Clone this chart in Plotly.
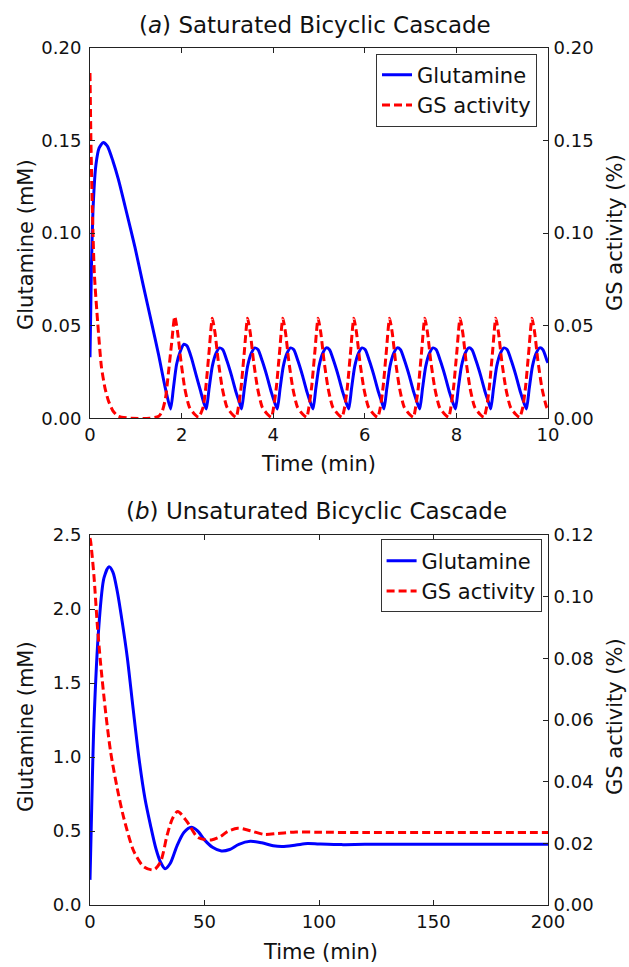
import plotly.graph_objects as go

# ---------------- Panel (a): Saturated bicyclic cascade ----------------
t_a_glu = [0, 0.03, 0.07, 0.13, 0.20, 0.29, 0.38, 0.50, 0.62, 0.80, 0.98, 1.16, 1.35, 1.50, 1.64,
           1.76, 1.82, 1.89, 1.97, 2.05, 2.12, 2.21, 2.31, 2.41, 2.49,
           2.54, 2.60, 2.67, 2.75, 2.83, 2.90, 2.99, 3.09, 3.19, 3.27,
           3.31, 3.37, 3.44, 3.52, 3.60, 3.67, 3.76, 3.86, 3.96, 4.04,
           4.09, 4.15, 4.22, 4.30, 4.38, 4.45, 4.54, 4.64, 4.74, 4.82,
           4.87, 4.93, 5.00, 5.08, 5.16, 5.23, 5.32, 5.42, 5.52, 5.60,
           5.65, 5.71, 5.78, 5.86, 5.94, 6.01, 6.10, 6.20, 6.30, 6.38,
           6.42, 6.48, 6.55, 6.63, 6.71, 6.78, 6.87, 6.97, 7.07, 7.15,
           7.20, 7.26, 7.33, 7.41, 7.49, 7.56, 7.65, 7.75, 7.85, 7.93,
           7.98, 8.04, 8.11, 8.19, 8.27, 8.34, 8.43, 8.53, 8.63, 8.71,
           8.75, 8.81, 8.88, 8.96, 9.04, 9.11, 9.20, 9.30, 9.40, 9.48,
           9.53, 9.59, 9.66, 9.74, 9.82, 9.89, 9.98, 10.0]
glu_a = [0.033, 0.080, 0.115, 0.137, 0.146, 0.149, 0.147, 0.139, 0.129, 0.111, 0.0926, 0.072, 0.051, 0.034, 0.0168,
         0.005, 0.016, 0.029, 0.036, 0.040, 0.039, 0.033, 0.024, 0.015, 0.008,
         0.005, 0.016, 0.028, 0.035, 0.038, 0.037, 0.031, 0.023, 0.014, 0.008,
         0.005, 0.016, 0.028, 0.035, 0.038, 0.037, 0.031, 0.023, 0.014, 0.008,
         0.005, 0.016, 0.028, 0.035, 0.038, 0.037, 0.031, 0.023, 0.014, 0.008,
         0.005, 0.016, 0.028, 0.035, 0.038, 0.037, 0.031, 0.023, 0.014, 0.008,
         0.005, 0.016, 0.028, 0.035, 0.038, 0.037, 0.031, 0.023, 0.014, 0.008,
         0.005, 0.016, 0.028, 0.035, 0.038, 0.037, 0.031, 0.023, 0.014, 0.008,
         0.005, 0.016, 0.028, 0.035, 0.038, 0.037, 0.031, 0.023, 0.014, 0.008,
         0.005, 0.016, 0.028, 0.035, 0.038, 0.037, 0.031, 0.023, 0.014, 0.008,
         0.005, 0.016, 0.028, 0.035, 0.038, 0.037, 0.031, 0.023, 0.014, 0.008,
         0.005, 0.016, 0.028, 0.035, 0.038, 0.037, 0.031, 0.030]

t_a_gs = [0, 0.02, 0.05, 0.095, 0.17, 0.25, 0.33, 0.40, 0.50, 0.62, 0.90, 1.30, 1.50, 1.58, 1.65, 1.71, 1.78,
          1.85, 1.91, 1.98, 2.07, 2.17, 2.29, 2.37,
          2.47, 2.53, 2.60, 2.67, 2.73, 2.80, 2.89, 2.99, 3.11, 3.19,
          3.24, 3.30, 3.37, 3.44, 3.50, 3.57, 3.66, 3.76, 3.88, 3.96,
          4.01, 4.07, 4.14, 4.21, 4.27, 4.34, 4.43, 4.53, 4.65, 4.73,
          4.78, 4.84, 4.91, 4.98, 5.04, 5.11, 5.20, 5.30, 5.42, 5.50,
          5.56, 5.62, 5.69, 5.76, 5.82, 5.89, 5.98, 6.08, 6.20, 6.28,
          6.34, 6.40, 6.47, 6.54, 6.60, 6.67, 6.76, 6.86, 6.98, 7.06,
          7.11, 7.17, 7.24, 7.31, 7.37, 7.44, 7.53, 7.63, 7.75, 7.83,
          7.88, 7.94, 8.01, 8.08, 8.14, 8.21, 8.30, 8.40, 8.52, 8.60,
          8.66, 8.72, 8.79, 8.86, 8.92, 8.99, 9.08, 9.18, 9.30, 9.38,
          9.45, 9.51, 9.58, 9.65, 9.71, 9.78, 9.87, 9.97, 10.0]
gs_a = [0.1865, 0.150, 0.114, 0.078, 0.051, 0.0276, 0.016, 0.0096, 0.004, 0.001, 0.0, 0.0, 0.001, 0.004, 0.011, 0.024, 0.040,
        0.055, 0.047, 0.032, 0.016, 0.006, 0.002, 0.0005,
        0.006, 0.017, 0.036, 0.054, 0.046, 0.031, 0.016, 0.006, 0.002, 0.0005,
        0.006, 0.017, 0.036, 0.054, 0.046, 0.031, 0.016, 0.006, 0.002, 0.0005,
        0.006, 0.017, 0.036, 0.054, 0.046, 0.031, 0.016, 0.006, 0.002, 0.0005,
        0.006, 0.017, 0.036, 0.054, 0.046, 0.031, 0.016, 0.006, 0.002, 0.0005,
        0.006, 0.017, 0.036, 0.054, 0.046, 0.031, 0.016, 0.006, 0.002, 0.0005,
        0.006, 0.017, 0.036, 0.054, 0.046, 0.031, 0.016, 0.006, 0.002, 0.0005,
        0.006, 0.017, 0.036, 0.054, 0.046, 0.031, 0.016, 0.006, 0.002, 0.0005,
        0.006, 0.017, 0.036, 0.054, 0.046, 0.031, 0.016, 0.006, 0.002, 0.0005,
        0.006, 0.017, 0.036, 0.054, 0.046, 0.031, 0.016, 0.006, 0.002, 0.0005,
        0.006, 0.017, 0.036, 0.054, 0.046, 0.031, 0.016, 0.006, 0.005]

# ---------------- Panel (b): Unsaturated bicyclic cascade ----------------
t_b_glu = [0, 0.5, 1.7, 3.9, 6.1, 8.3, 10, 11.9, 14, 16.3, 18.8, 21.4, 24, 26.4, 28.8, 30.8, 32.8, 35, 38,
           41, 44.2, 47, 50, 53.5, 57.4, 61, 65, 70, 75, 80, 84, 90, 95, 100, 110, 120, 140, 160, 180, 200]
glu_b = [0.17, 0.50, 1.22, 1.89, 2.21, 2.286, 2.25, 2.12, 1.92, 1.67, 1.33, 0.99, 0.72, 0.54, 0.38, 0.29, 0.245, 0.28, 0.40,
         0.49, 0.525, 0.50, 0.44, 0.39, 0.365, 0.375, 0.41, 0.43, 0.42, 0.40, 0.395, 0.405, 0.415, 0.412, 0.408, 0.41, 0.41, 0.41, 0.41, 0.41]

t_b_gs = [0, 0.3, 1.7, 3.2, 4.7, 6.8, 9, 11.9, 14.8, 19.2, 23.5, 27.9, 30.8, 33.7, 36, 38.3, 42.4, 46.8, 50, 53,
          57, 60, 64.5, 70, 76, 82, 90, 100, 120, 150, 200]
gs_b = [0.119, 0.1178, 0.107, 0.0908, 0.0778, 0.0627, 0.0497, 0.0378, 0.0281, 0.0173, 0.0124, 0.0114, 0.014, 0.0227,
        0.028, 0.0303, 0.027, 0.0221, 0.0212, 0.0211, 0.0222, 0.0238, 0.0249, 0.0241, 0.0229, 0.0232, 0.0237, 0.0236,
        0.0235, 0.0235, 0.0235]

x_a_ticks = [0, 2, 4, 6, 8, 10]
x_b_ticks = [0, 50, 100, 150, 200]

FONT = "DejaVu Sans"
BLUE = "#0000ff"
RED = "#ff0000"

fig = go.Figure()
fig.add_trace(go.Scatter(x=t_a_glu, y=glu_a, name="Glutamine", mode="lines",
                         line=dict(color=BLUE, width=3, shape="spline", smoothing=0.6),
                         xaxis="x", yaxis="y", legend="legend"))
fig.add_trace(go.Scatter(x=t_a_gs, y=gs_a, name="GS activity", mode="lines",
                         line=dict(color=RED, width=3, dash="8px,4px", shape="spline", smoothing=0.6),
                         xaxis="x", yaxis="y2", legend="legend"))
fig.add_trace(go.Scatter(x=t_b_glu, y=glu_b, name="Glutamine", mode="lines",
                         line=dict(color=BLUE, width=3, shape="spline", smoothing=0.8),
                         xaxis="x2", yaxis="y3", legend="legend2"))
fig.add_trace(go.Scatter(x=t_b_gs, y=gs_b, name="GS activity", mode="lines",
                         line=dict(color=RED, width=3, dash="8px,4px", shape="spline", smoothing=0.8),
                         xaxis="x2", yaxis="y4", legend="legend2"))

axis_common = dict(showgrid=False, zeroline=False, showline=True, linecolor="#222", linewidth=1,
                   ticks="inside", ticklen=5, tickcolor="#222", automargin=False,
                   tickfont=dict(family=FONT, size=18, color="#111"))

legend_common = dict(xanchor="right", yanchor="top", bgcolor="white", bordercolor="#333", borderwidth=1,
                     font=dict(family=FONT, size=21, color="#111"), tracegroupgap=0, itemwidth=30)

fig.update_layout(
    template="none",
    width=629, height=967,
    margin=dict(l=90, r=81, t=48, b=62),
    paper_bgcolor="white", plot_bgcolor="white",
    font=dict(family=FONT, color="#111"),
    xaxis=dict(**axis_common, domain=[0, 1], anchor="y", range=[0, 10], tickvals=x_a_ticks,
               mirror="ticks", ticklabelstandoff=0),
    yaxis=dict(**axis_common, domain=[0.568, 1], anchor="x", range=[0, 0.2], dtick=0.05,
               tickformat=".2f", ticklabelstandoff=4),
    yaxis2=dict(**axis_common, overlaying="y", side="right", anchor="x", range=[0, 0.2], dtick=0.05,
                tickformat=".2f", ticklabelstandoff=1),
    xaxis2=dict(**axis_common, domain=[0, 1], anchor="y3", range=[0, 200], tickvals=x_b_ticks,
                mirror="ticks", ticklabelstandoff=0),
    yaxis3=dict(**axis_common, domain=[0, 0.4317], anchor="x2", range=[0, 2.5], dtick=0.5,
                tickformat=".1f", ticklabelstandoff=4),
    yaxis4=dict(**axis_common, overlaying="y3", side="right", anchor="x2", range=[0, 0.12], dtick=0.02,
                tickformat=".2f", ticklabelstandoff=1),
    legend=dict(**legend_common, x=0.976, y=0.9935),
    legend2=dict(**legend_common, x=0.986, y=0.4265),
    showlegend=True,
)

title_font = dict(family=FONT, size=23, color="#111")
label_font = dict(family=FONT, size=21, color="#111")
def py(ypix):
    return (905 - ypix) / 857.0
def px(xpix):
    return (xpix - 90) / 458.0

annotations = [
    dict(text="(<i>a</i>) Saturated Bicyclic Cascade", x=px(315), y=py(25), font=title_font),
    dict(text="(<i>b</i>) Unsaturated Bicyclic Cascade", x=px(316), y=py(511), font=title_font),
    dict(text="Time (min)", x=px(318), y=py(464), font=label_font),
    dict(text="Time (min)", x=px(320), y=py(952), font=label_font),
    dict(text="Glutamine (mM)", x=px(26), y=py(245), textangle=-90, font=label_font),
    dict(text="Glutamine (mM)", x=px(26), y=py(727), textangle=-90, font=label_font),
    dict(text="GS activity (%)", x=px(615), y=py(233), textangle=-90, font=label_font),
    dict(text="GS activity (%)", x=px(615), y=py(717), textangle=-90, font=label_font),
]
for a in annotations:
    fig.add_annotation(xref="paper", yref="paper", showarrow=False,
                       xanchor="center", yanchor="middle", **a)

fig.write_html("out.html", config={"displayModeBar": False},
               post_script="document.body.style.margin='0px';document.body.style.overflow='hidden';")
